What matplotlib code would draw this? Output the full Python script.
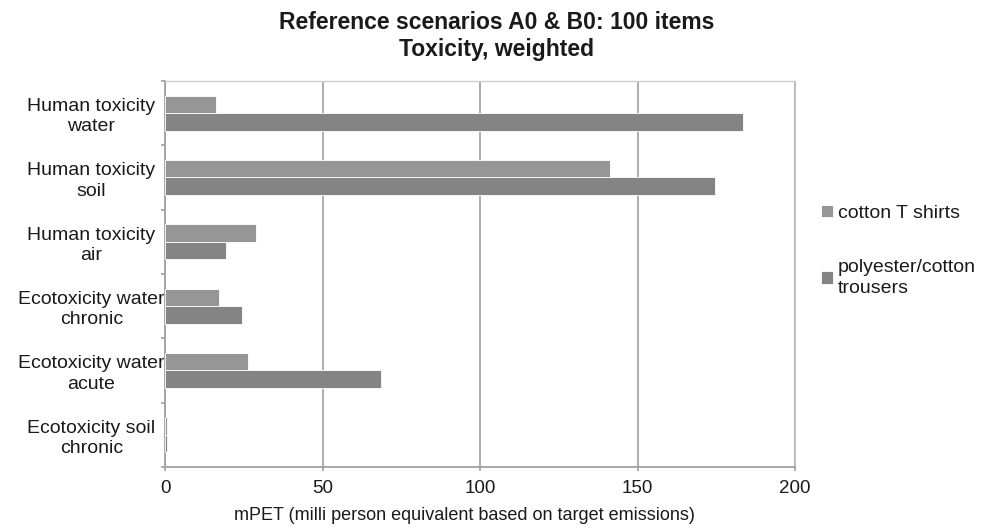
import numpy as np
import matplotlib
matplotlib.use('Agg')
import matplotlib.pyplot as plt

plt.rcParams['font.family'] = ['Liberation Sans', 'DejaVu Sans']

# data (top category first)
categories = ['Human toxicity\nwater', 'Human toxicity\nsoil', 'Human toxicity\nair',
              'Ecotoxicity water\nchronic', 'Ecotoxicity water\nacute', 'Ecotoxicity soil\nchronic']
cotton_tshirts = [16.1, 141.3, 29.0, 17.1, 26.2, 0.7]
poly_trousers = [183.4, 174.5, 19.4, 24.5, 68.5, 0.7]
series_names = ['cotton T shirts', 'polyester/cotton\ntrousers']
x_ticks = [0, 50, 100, 150, 200]

txt = '#1a1a1a'

fig = plt.figure(figsize=(9.87, 5.29), dpi=100)
ax = fig.add_axes([0.1672, 0.1172, 0.6383, 0.7297])

y = np.arange(len(categories))
h = 0.27
ax.barh(y - h / 2, cotton_tshirts, h, color='#969696', edgecolor='white', linewidth=0.6,
        label=series_names[0], zorder=3)
ax.barh(y + h / 2, poly_trousers, h, color='#848484', edgecolor='white', linewidth=0.6,
        label=series_names[1], zorder=3)

ax.set_ylim(len(categories) - 0.5, -0.5)
ax.set_xlim(0, 200)
ax.set_xticks(x_ticks)
ax.set_yticks(y)
ax.set_yticklabels(categories, fontsize=14, color=txt, ha='center', linespacing=1.25)
ax.tick_params(axis='y', length=0, pad=53)
ax.set_yticks(np.arange(len(categories) + 1) - 0.5, minor=True)
ax.tick_params(axis='y', which='minor', length=3, width=1.2, color='#a0a0a0', direction='out')
ax.tick_params(axis='x', labelsize=13.5, labelcolor=txt, length=3, width=1.2,
               color='#a0a0a0', pad=6)

ax.grid(True, axis='x', color='#a6a6a6', linewidth=1.3, zorder=0)
for side in ['left', 'bottom']:
    ax.spines[side].set_color('#a0a0a0')
    ax.spines[side].set_linewidth(1.3)
for side in ['top', 'right']:
    ax.spines[side].set_color('#cccccc')
    ax.spines[side].set_linewidth(1.0)

ax.set_xlabel('mPET (milli person equivalent based on target emissions)', fontsize=13, color=txt)
ax.xaxis.set_label_coords(0.476, -0.125)
ax.xaxis.label.set_va('center')

fig.text(0.503, 0.932, 'Reference scenarios A0 & B0: 100 items\nToxicity, weighted',
         fontsize=16.5, fontweight='bold', color=txt, ha='center', va='center',
         linespacing=1.27)

leg = ax.legend(loc='center left', bbox_to_anchor=(1.0135, 0.56), frameon=False, fontsize=14,
                handlelength=0.62, handleheight=0.62, handletextpad=0.25, labelspacing=1.9)
for t in leg.get_texts():
    t.set_color(txt)
    t.set_linespacing(1.3)

plt.savefig('out.png', dpi=100)
plt.close()
